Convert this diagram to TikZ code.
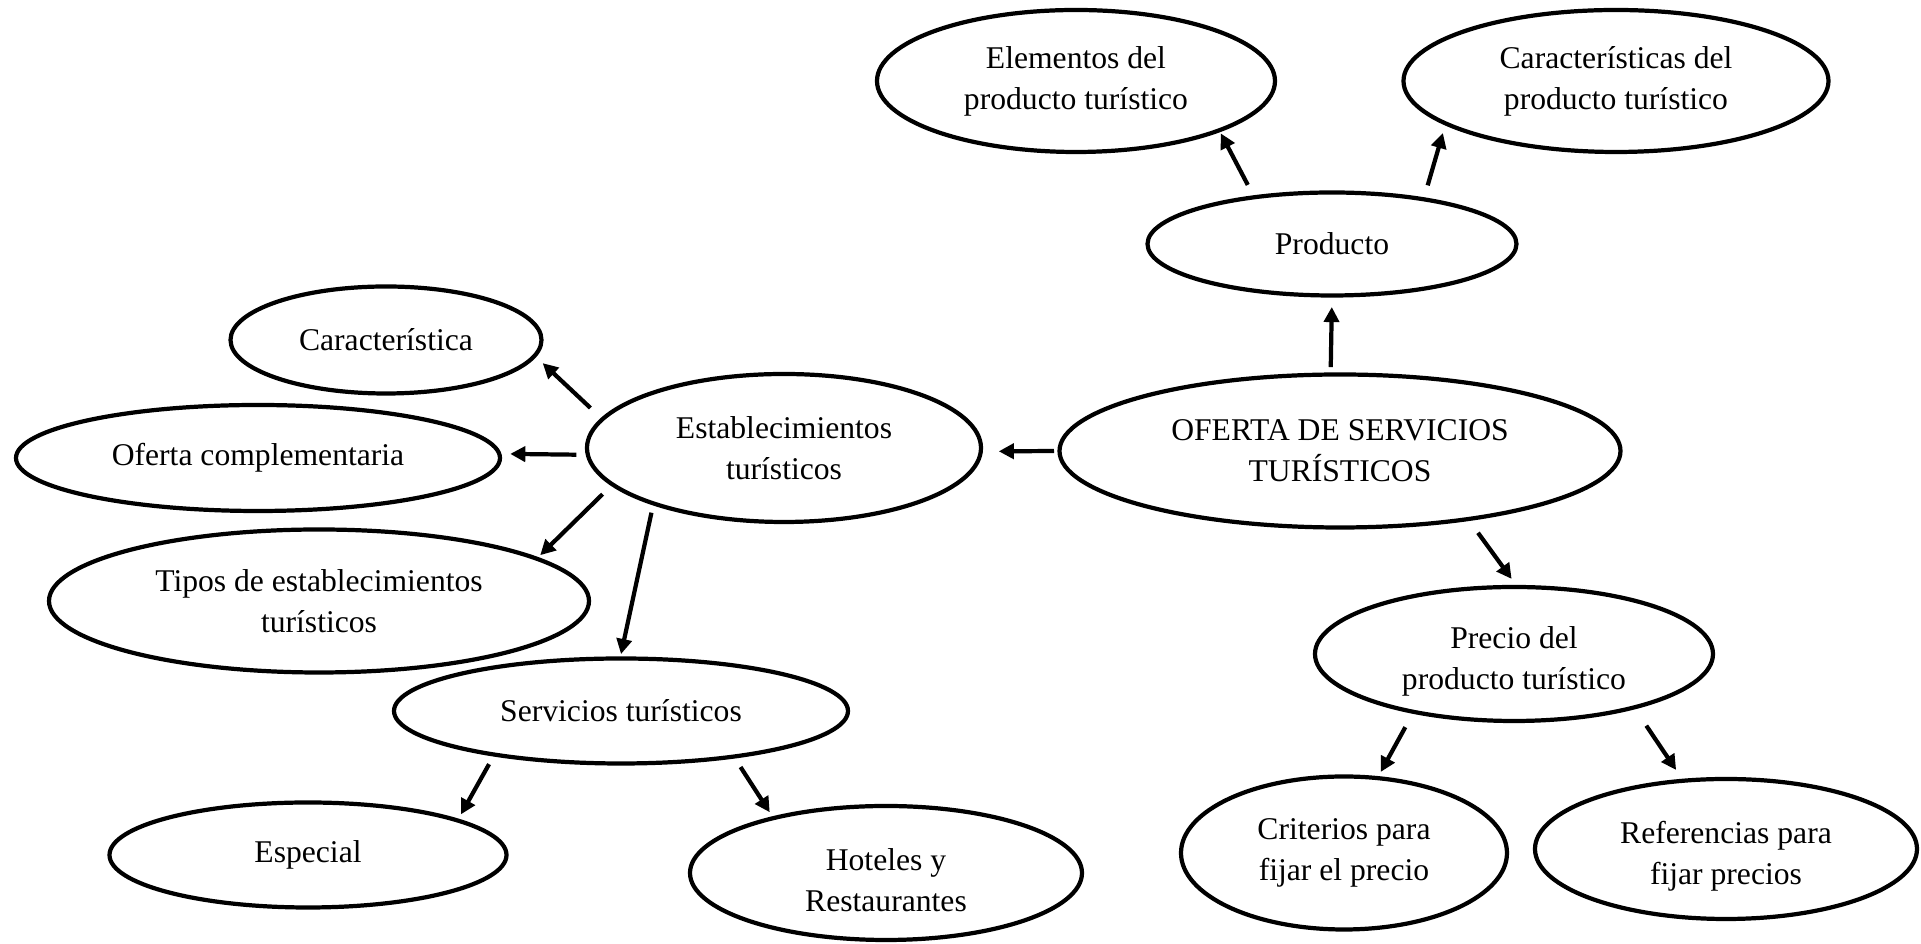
\documentclass[tikz,border=0pt]{standalone}
\usepackage{fontspec}
\setmainfont{Liberation Serif}
\usetikzlibrary{arrows.meta,shapes.geometric}

\begin{document}
\begin{tikzpicture}[>={Triangle[length=4.3pt,width=4.3pt]},
  oval/.style={draw,ellipse,line width=1.2pt,inner sep=0pt,outer sep=0pt,align=center,font=\fontsize{9}{11.7}\selectfont},
  lowtext/.style={text height=22pt},
  link/.style={->,line width=1.2pt}]
  \useasboundingbox (0,0) rectangle (19.21,9.44);
  \node[oval,minimum width=5.61cm,minimum height=1.53cm] (oferta) at (13.40,4.93) {OFERTA DE SERVICIOS\\TURÍSTICOS};
  \node[oval,minimum width=3.69cm,minimum height=1.03cm] (producto) at (13.32,7.00) {Producto};
  \node[oval,minimum width=3.98cm,minimum height=1.42cm] (elementos) at (10.76,8.63) {Elementos del\\producto turístico};
  \node[oval,minimum width=4.25cm,minimum height=1.42cm] (caract) at (16.16,8.63) {Características del\\producto turístico};
  \node[oval,lowtext,minimum width=3.98cm,minimum height=1.34cm] (precio) at (15.14,2.90) {Precio del\\producto turístico};
  \node[oval,minimum width=3.26cm,minimum height=1.53cm] (criterios) at (13.44,0.91) {Criterios para\\fijar el precio};
  \node[oval,lowtext,minimum width=3.82cm,minimum height=1.40cm] (referencias) at (17.26,0.95) {Referencias para\\fijar precios};
  \node[oval,minimum width=3.94cm,minimum height=1.48cm] (establ) at (7.84,4.96) {Establecimientos\\turísticos};
  \node[oval,minimum width=3.11cm,minimum height=1.07cm] (caracteristica) at (3.86,6.04) {Característica};
  \node[oval,minimum width=4.84cm,minimum height=1.06cm] (ofcomp) at (2.58,4.86) {Oferta complementaria};
  \node[oval,minimum width=5.40cm,minimum height=1.43cm] (tipos) at (3.19,3.43) {Tipos de establecimientos\\turísticos};
  \node[oval,minimum width=4.54cm,minimum height=1.05cm] (servicios) at (6.21,2.33) {Servicios turísticos};
  \node[oval,minimum width=3.97cm,minimum height=1.05cm] (especial) at (3.08,0.89) {Especial};
  \node[oval,lowtext,minimum width=3.92cm,minimum height=1.34cm] (hoteles) at (8.86,0.71) {Hoteles y\\Restaurantes};

  \draw[link,shorten <=0.75mm,shorten >=1.15mm] (oferta.97) -- (producto.270);
  \draw[link,shorten <=1.4mm,shorten >=0.35mm] (producto.149) -- (elementos.341);
  \draw[link,shorten <=1.45mm,shorten >=1mm] (producto.26) -- (caract.194);
  \draw[link,shorten <=0.55mm,shorten >=1.8mm] (oferta.180) -- (establ.359);
  \draw[link,shorten <=1.7mm,shorten >=1mm] (oferta.332) -- (precio.87);
  \draw[link,shorten <=1.75mm,shorten >=0.7mm] (precio.210) -- (criterios.66);
  \draw[link,shorten <=2.2mm,shorten >=1.3mm] (precio.336) -- (referencias.122);
  \draw[link,shorten <=1.65mm,shorten >=1.1mm] (establ.171) -- (caracteristica.354);
  \draw[link,shorten <=1.15mm,shorten >=1.1mm] (establ.182) -- (ofcomp.1);
  \draw[link,shorten <=1.4mm,shorten >=0.5mm] (establ.192) -- (tipos.11);
  \draw[link,shorten <=0.95mm,shorten >=0.45mm] (establ.203) -- (servicios.91);
  \draw[link,shorten <=1.1mm,shorten >=0.7mm] (servicios.199) -- (especial.13);
  \draw[link,shorten <=1.25mm,shorten >=0.7mm] (servicios.338) -- (hoteles.154);
\end{tikzpicture}
\end{document}
